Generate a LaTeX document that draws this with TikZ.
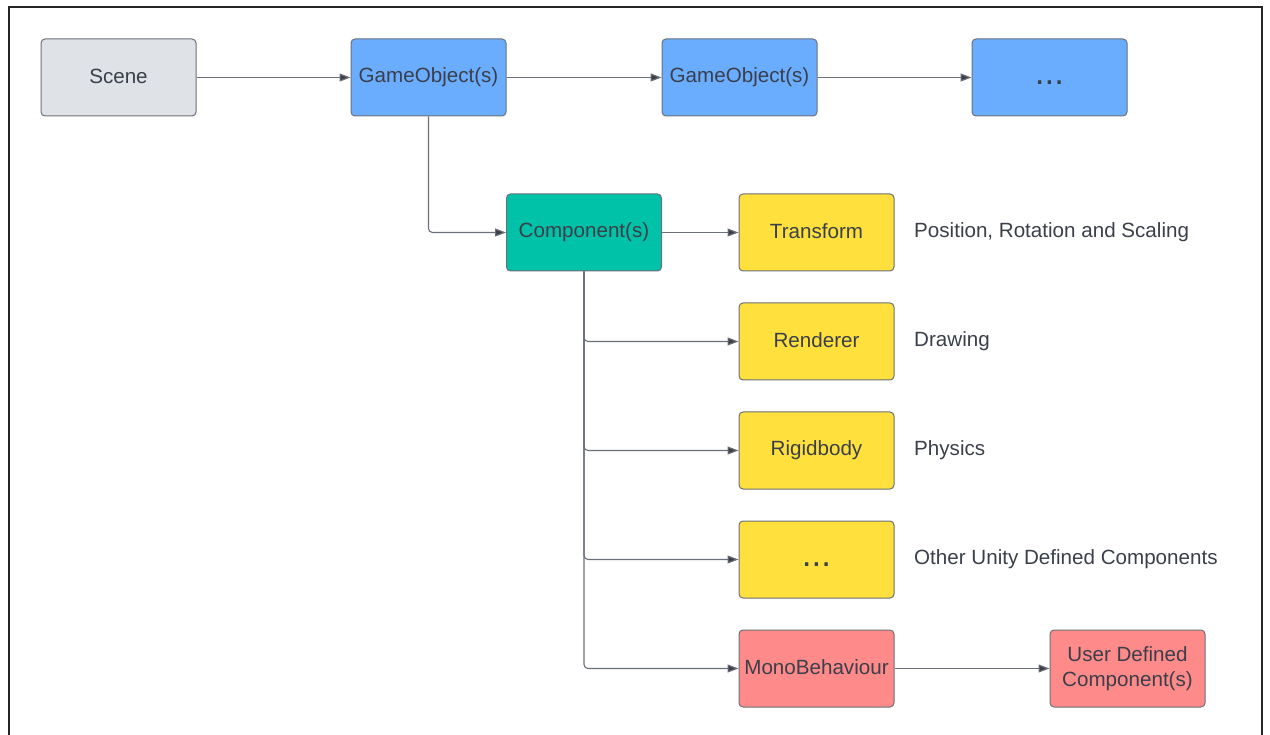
\documentclass[tikz,border=0pt]{standalone}
\usepackage{fontspec}
\setmainfont{Liberation Sans}
\usetikzlibrary{arrows.meta}
\definecolor{txt}{HTML}{3A3F4A}
\definecolor{edge}{HTML}{6B7078}
\definecolor{sceneF}{HTML}{DFE3E8}
\definecolor{blueF}{HTML}{6AADFF}
\definecolor{tealF}{HTML}{00C2A8}
\definecolor{yelF}{HTML}{FFE03D}
\definecolor{redF}{HTML}{FF8A8A}
\newcommand{\upt}[1]{\raisebox{3pt}{#1}}
\newcommand{\dotsbig}[1]{\raisebox{-#1}[0pt][0pt]{\fontsize{35}{35}\selectfont ...}}
\tikzset{
  box/.style={draw=edge, line width=1pt, rounded corners=4pt, minimum width=155pt, minimum height=77pt, inner sep=0pt, text=txt, font=\fontsize{20.6}{25}\selectfont, align=center},
  lbl/.style={anchor=west, inner sep=0pt, text=txt, font=\fontsize{20.6}{24}\selectfont},
  conn/.style={draw=edge, line width=1.1pt, rounded corners=4pt, -{Triangle[length=11pt,width=8pt,fill=txt]}},
}
\begin{document}
\begin{tikzpicture}[x=1pt,y=-1pt]
\useasboundingbox (0,0) rectangle (1270,735);
\draw[line width=2pt, black!85] (9,740) -- (9,7) -- (1262,7) -- (1262,740);
\node[box, fill=sceneF] (scene) at (118.5,77.5) {\upt{Scene}};
\node[box, fill=blueF] (go1) at (428.5,77.5) {\upt{GameObject(s)}};
\node[box, fill=blueF] (go2) at (739.5,77.5) {\upt{GameObject(s)}};
\node[box, fill=blueF] (go3) at (1049.5,77.5) {\dotsbig{7.5pt}};
\node[box, fill=tealF] (comp) at (584,232.5) {\upt{Component(s)}};
\node[box, fill=yelF] (tr) at (816.5,232.5) {\upt{Transform}};
\node[box, fill=yelF] (rend) at (816.5,341.5) {\upt{Renderer}};
\node[box, fill=yelF] (rig) at (816.5,450.5) {\upt{Rigidbody}};
\node[box, fill=yelF] (oth) at (816.5,559.5) {\dotsbig{7pt}};
\node[box, fill=redF] (mono) at (816.5,668.5) {\upt{MonoBehaviour}};
\node[box, fill=redF] (user) at (1127.5,668.5) {User Defined\\Component(s)};
\node[lbl] (l1) at (914,232) {Position, Rotation and Scaling};
\node[lbl] (l2) at (914,341) {Drawing};
\node[lbl] (l3) at (914,450) {Physics};
\node[lbl] (l4) at (914,559) {Other Unity Defined Components};
\draw[conn] (scene) -- (go1);
\draw[conn] (go1) -- (go2);
\draw[conn] (go2) -- (go3);
\draw[conn] (go1.south) |- (comp.west);
\draw[conn] (comp) -- (tr);
\draw[conn] (comp.south) |- (rend.west);
\draw[conn] (comp.south) |- (rig.west);
\draw[conn] (comp.south) |- (oth.west);
\draw[conn] (comp.south) |- (mono.west);
\draw[conn] (mono) -- (user);
\end{tikzpicture}
\end{document}
